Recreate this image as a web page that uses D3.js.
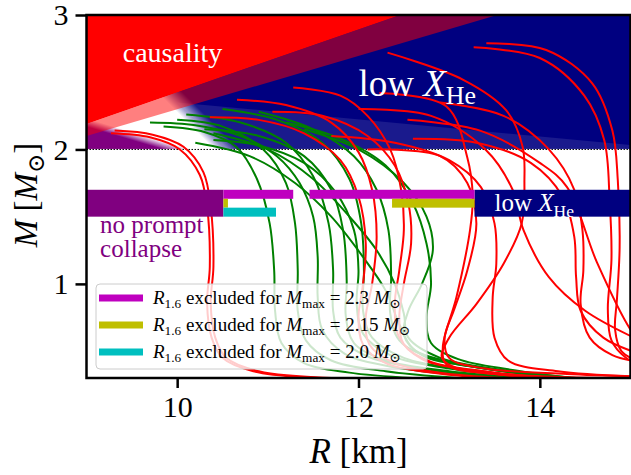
<!DOCTYPE html>
<html>
<head>
<meta charset="utf-8">
<script src="https://cdn.jsdelivr.net/npm/d3@7"></script>
<style>
  body { margin: 0; background: #fff; }
  text { font-family: 'Liberation Serif', 'DejaVu Serif', serif; white-space: pre; }
</style>
</head>
<body>
<div id="chart-area"></div>
<script>
// axis ticks
const xTicks = [10, 12, 14];
const yTicks = [1, 2, 3];

// shaded regions, in (R [km], M [Msun])
const causalityTop = [[9, 2.19], [12.46, 3]];
const causalityLow = [[9, 2.10], [13.53, 3]];
const xheEdge = [[10.55, 2.0], [9.07, 3.0]];
const xheLightEdge = [[10.0, 2.35], [15, 2.033]];
const promptEdge = [[9, 2.2], [10.0, 2.0]];

// bars at M = 1.5 .. 1.7
const barLevels = [1.5, 1.567, 1.633, 1.7];
const noPromptR = [9, 10.51];
const lowXheR = [13.28, 15];
const excl23 = [[10.51, 11.28], [11.46, 13.28]];
const excl215 = [[10.51, 10.56], [12.37, 13.28]];
const excl20 = [[10.51, 11.09]];
const legendMmax = ['2.3', '2.15', '2.0'];

// mass-radius curves
const greenCurves = [
  [[9.85,2.17],[10.3,2.13],[10.65,2.02],[10.88,1.78],[11.02,1.45],[11.07,1.1],[11.08,0.8],[11.15,0.56],[11.4,0.41],[11.9,0.34],[12.6,0.3]],
  [[10.0,2.22],[10.5,2.17],[10.95,2.0],[11.2,1.75],[11.3,1.45],[11.33,1.1],[11.33,0.8],[11.42,0.58],[11.7,0.43],[12.3,0.35],[13.1,0.3]],
  [[10.1,2.26],[10.7,2.2],[11.2,2.05],[11.5,1.8],[11.67,1.45],[11.72,1.1],[11.72,0.8],[11.8,0.6],[12.1,0.46],[12.7,0.37],[13.5,0.31],[14.0,0.29]],
  [[10.3,2.15],[10.9,2.1],[11.4,1.95],[11.7,1.7],[11.83,1.4],[11.87,1.02],[11.86,0.76],[11.95,0.56],[12.3,0.43],[13.0,0.35],[13.8,0.3]],
  [[10.5,2.3],[11.1,2.22],[11.6,2.05],[11.9,1.78],[12.03,1.45],[12.06,1.1],[12.05,0.8],[12.15,0.6],[12.5,0.45],[13.2,0.36],[14.1,0.3]],
  [[10.9,2.28],[11.5,2.15],[11.95,1.95],[12.2,1.7],[12.33,1.4],[12.36,1.05],[12.35,0.78],[12.45,0.58],[12.8,0.45],[13.5,0.36],[14.3,0.3]],
  [[11.2,2.2],[11.8,2.08],[12.3,1.88],[12.6,1.6],[12.75,1.3],[12.8,1.0],[12.75,0.75],[12.8,0.56],[13.1,0.44],[13.7,0.36],[14.35,0.3]],
  [[11.4,2.15],[12.0,2.0],[12.5,1.75],[12.75,1.5],[12.82,1.25],[12.7,1.0],[12.55,0.8],[12.5,0.62],[12.7,0.47],[13.3,0.38],[14.25,0.3]],
  [[10.2,2.05],[10.8,1.95],[11.3,1.75],[11.7,1.5],[12.05,1.2],[12.3,0.95],[12.45,0.7],[12.6,0.52],[13.0,0.42],[13.6,0.35],[14.3,0.3]],
  [[10.4,2.12],[11.0,2.0],[11.5,1.78],[11.9,1.5],[12.2,1.25],[12.4,1.0],[12.5,0.78],[12.55,0.6],[12.9,0.45],[13.6,0.36],[14.4,0.3]],
  [[9.7,2.2],[10.2,2.18],[10.7,2.1],[11.1,1.95],[11.35,1.75],[11.5,1.5],[11.55,1.2],[11.55,0.9],[11.6,0.66],[11.85,0.48],[12.4,0.38],[13.2,0.32],[13.9,0.3]],
  [[10.4,2.07],[10.9,2.03],[11.4,1.9],[11.75,1.68],[11.95,1.4],[12.0,1.1],[11.98,0.85],[12.05,0.63],[12.35,0.47],[13.0,0.37],[13.9,0.3]]
];

const redCurves = [
  [[9.27,2.12],[9.7,2.09],[10.03,2.0],[10.25,1.81],[10.33,1.57],[10.36,1.13],[10.33,0.86],[10.38,0.6],[10.5,0.45],[10.84,0.35],[11.6,0.3]],
  [[9.31,2.14],[9.73,2.11],[10.07,2.02],[10.29,1.83],[10.37,1.57],[10.4,1.13],[10.37,0.86],[10.42,0.6],[10.54,0.45],[10.9,0.35],[11.7,0.3]],
  [[10.36,2.24],[10.9,2.22],[11.4,2.12],[11.8,1.92],[12.0,1.65],[12.08,1.3],[12.05,1.0],[12.0,0.75],[12.05,0.55],[12.3,0.41],[12.8,0.34],[13.4,0.3]],
  [[10.66,2.37],[11.2,2.33],[11.7,2.2],[12.0,1.98],[12.15,1.7],[12.2,1.35],[12.15,1.0],[12.08,0.75],[12.12,0.55],[12.4,0.41],[12.9,0.34],[13.6,0.3]],
  [[11.28,2.46],[11.8,2.4],[12.1,2.25],[12.35,2.0],[12.47,1.7],[12.5,1.4],[12.45,1.1],[12.4,0.85],[12.45,0.6],[12.7,0.44],[13.2,0.36],[13.9,0.3]],
  [[11.05,2.28],[11.6,2.25],[12.1,2.1],[12.4,1.88],[12.55,1.6],[12.58,1.3],[12.5,1.0],[12.45,0.75],[12.5,0.55],[12.8,0.42],[13.4,0.35],[14.1,0.3]],
  [[12.32,2.72],[13.15,2.52],[13.63,2.29],[13.81,2.02],[13.83,1.77],[13.8,1.45],[13.6,1.15],[13.3,0.85],[13.0,0.6],[12.92,0.45],[13.1,0.37],[13.8,0.32],[14.7,0.3]],
  [[12.23,2.42],[12.97,2.32],[13.2,1.94],[13.26,1.65],[13.23,1.4],[13.08,0.9],[12.93,0.53],[12.97,0.4],[13.5,0.33],[14.4,0.3]],
  [[12.54,2.22],[13.34,2.14],[14.0,1.9],[14.3,1.72],[14.63,1.16],[15.0,0.66],[15.2,0.5]],
  [[13.41,2.79],[14.07,2.74],[14.58,2.49],[14.8,2.14],[14.86,1.77],[14.88,1.27],[14.85,0.88],[14.83,0.66],[14.9,0.5],[15.1,0.42]],
  [[13.27,2.76],[14.0,2.68],[14.49,2.4],[14.71,2.07],[14.77,1.62],[14.79,1.18],[14.75,0.81],[14.79,0.58],[14.95,0.45],[15.1,0.4]],
  [[12.6,2.08],[13.3,2.05],[13.9,1.9],[14.25,1.65],[14.38,1.35],[14.4,1.05],[14.45,0.8],[14.7,0.6],[15.1,0.48]],
  [[11.7,2.1],[12.4,2.05],[13.0,1.92],[13.35,1.72],[13.5,1.45],[13.52,1.15],[13.48,0.9],[13.5,0.6],[13.65,0.43],[14.2,0.35],[15.1,0.31]],
  [[12.9,2.35],[13.6,2.25],[14.1,2.0],[14.38,1.7],[14.47,1.4],[14.48,1.1],[14.45,0.85],[14.55,0.6],[14.8,0.47],[15.1,0.42]],
  [[12.0,2.3],[12.8,2.25],[13.4,2.0],[13.7,1.7],[13.82,1.4],[14.1,1.05],[14.5,0.8],[15.1,0.58]],
  [[12.1,2.0],[12.9,1.95],[13.2,1.75],[13.3,1.45],[13.2,1.1],[13.05,0.8],[12.95,0.6],[13.0,0.45],[13.4,0.37],[14.3,0.33],[15.1,0.31]]
];

// chart size
const margin = {left: 86.5, right: 0.5, top: 15, bottom: 97};
const width = 631 - margin.left - margin.right;
const height = 475 - margin.top - margin.bottom;

const svg = d3.select('#chart-area')
  .append('svg')
  .attr('width', 631)
  .attr('height', 475);

const g = svg.append('g')
  .attr('transform', `translate(${margin.left}, ${margin.top})`);

const x = d3.scaleLinear().domain([9, 15]).range([0, width]);
const y = d3.scaleLinear().domain([0.3, 3]).range([height, 0]);

const defs = svg.append('defs');
defs.append('clipPath').attr('id', 'plot-clip')
  .append('rect').attr('width', width).attr('height', height);

// gradient that fades across a straight edge (transparent on one side, solid on the other)
function edgeFade(id, edge, color, w) {
  const p0 = [x(edge[0][0]), y(edge[0][1])];
  const p1 = [x(edge[1][0]), y(edge[1][1])];
  const len = Math.hypot(p1[0] - p0[0], p1[1] - p0[1]);
  const n = [-(p1[1] - p0[1]) / len, (p1[0] - p0[0]) / len];
  const m = [(p0[0] + p1[0]) / 2, (p0[1] + p1[1]) / 2];
  const grad = defs.append('linearGradient').attr('id', id)
    .attr('gradientUnits', 'userSpaceOnUse')
    .attr('x1', m[0] - n[0] * w).attr('y1', m[1] - n[1] * w)
    .attr('x2', m[0] + n[0] * w).attr('y2', m[1] + n[1] * w);
  grad.append('stop').attr('offset', 0).attr('stop-color', color).attr('stop-opacity', 0);
  grad.append('stop').attr('offset', 1).attr('stop-color', color).attr('stop-opacity', 1);
}
edgeFade('xhe-fade', xheEdge, '#000080', 9);
edgeFade('prompt-fade', promptEdge, '#800080', 4);

const plot = g.append('g').attr('clip-path', 'url(#plot-clip)');
const area = d3.line().x(d => x(d[0])).y(d => y(d[1]));

// low X_He region
plot.append('path')
  .attr('d', area([[9, 3], [15, 3], [15, 2], [9, 2]]) + 'Z')
  .attr('fill', 'url(#xhe-fade)');
plot.append('path')
  .attr('d', area([xheLightEdge[0], xheLightEdge[1], [15, 2], [10.55, 2]]) + 'Z')
  .attr('fill', '#fff').attr('fill-opacity', 0.1);

// no prompt collapse wedge above M = 2
plot.append('path')
  .attr('d', area([[9, 2.3], [10.4, 2.0], [9, 2.0]]) + 'Z')
  .attr('fill', 'url(#prompt-fade)');

// causality
plot.append('path')
  .attr('d', area([causalityTop[0], causalityTop[1], causalityLow[1], causalityLow[0]]) + 'Z')
  .attr('fill', 'red').attr('fill-opacity', 0.5);
plot.append('path')
  .attr('d', area([[9, 3], causalityTop[1], causalityTop[0]]) + 'Z')
  .attr('fill', 'red');

// M = 2 dotted line
plot.append('line')
  .attr('x1', 0).attr('x2', width).attr('y1', y(2)).attr('y2', y(2))
  .attr('stroke', '#fff').attr('stroke-width', 1);
plot.append('line')
  .attr('x1', 0).attr('x2', width).attr('y1', y(2)).attr('y2', y(2))
  .attr('stroke', '#000').attr('stroke-width', 1).attr('stroke-dasharray', '1.5,1.5');

// M-R curves
const curve = d3.line()
  .x(d => x(d[0])).y(d => y(d[1]))
  .curve(d3.curveCatmullRom.alpha(0.5));

plot.selectAll('.green').data(greenCurves).enter()
  .append('path').attr('class', 'green')
  .attr('d', curve)
  .attr('fill', 'none').attr('stroke', 'green').attr('stroke-width', 2);

plot.selectAll('.red').data(redCurves).enter()
  .append('path').attr('class', 'red')
  .attr('d', curve)
  .attr('fill', 'none').attr('stroke', 'red').attr('stroke-width', 2);

// bars
function bar(r, m0, m1, color) {
  plot.append('rect')
    .attr('x', x(r[0])).attr('width', x(r[1]) - x(r[0]))
    .attr('y', y(m1)).attr('height', y(m0) - y(m1))
    .attr('fill', color);
}
bar(noPromptR, barLevels[0], barLevels[3], '#800080');
bar(lowXheR, barLevels[0], barLevels[3], '#000080');
excl23.forEach(r => bar(r, barLevels[2], barLevels[3], '#bf00bf'));
excl215.forEach(r => bar(r, barLevels[1], barLevels[2], '#bfbf00'));
excl20.forEach(r => bar(r, barLevels[0], barLevels[1], '#00bfbf'));

// text with italic parts and subscripts
function rich(sel, parts, size) {
  let shift = 0;
  parts.forEach(p => {
    const target = p.sub ? size * 0.22 : 0;
    sel.append('tspan')
      .attr('dy', target - shift)
      .attr('font-size', p.sub ? size * 0.7 : size)
      .attr('font-style', p.it ? 'italic' : 'normal')
      .text(p.t);
    shift = target;
  });
}

// region labels
g.append('text').attr('x', x(9.4)).attr('y', y(2.65))
  .attr('fill', '#fff').attr('font-size', 28).text('causality');

rich(g.append('text').attr('x', x(12.0)).attr('y', y(2.4)).attr('fill', '#fff'),
  [{t: 'low '}, {t: 'X', it: true}, {t: 'He', sub: true}], 37);

rich(g.append('text').attr('x', x(13.5)).attr('y', y(1.54)).attr('fill', '#fff'),
  [{t: 'low '}, {t: 'X', it: true}, {t: 'He', sub: true}], 25);

const npc = g.append('text').attr('y', y(1.375))
  .attr('fill', '#800080').attr('font-size', 25);
npc.append('tspan').attr('x', x(9.15)).text('no prompt');
npc.append('tspan').attr('x', x(9.15)).attr('dy', 23.5).text('collapse');

// legend
const legend = g.append('g').attr('transform', `translate(${96 - margin.left}, ${284 - margin.top})`);
legend.append('rect')
  .attr('width', 331).attr('height', 85).attr('rx', 4)
  .attr('fill', '#fff').attr('fill-opacity', 0.8)
  .attr('stroke', '#cccccc').attr('stroke-width', 1);
const legendColors = ['#bf00bf', '#bfbf00', '#00bfbf'];
legendMmax.forEach((mm, i) => {
  const cy = 14 + i * 27;
  legend.append('line')
    .attr('x1', 3).attr('x2', 47).attr('y1', cy).attr('y2', cy)
    .attr('stroke', legendColors[i]).attr('stroke-width', 7);
  rich(legend.append('text').attr('x', 57).attr('y', cy + 6).attr('fill', '#000'),
    [{t: 'R', it: true}, {t: '1.6', sub: true}, {t: ' excluded for '},
     {t: 'M', it: true}, {t: 'max', sub: true}, {t: ' = ' + mm + ' '},
     {t: 'M', it: true}, {t: '⊙', sub: true}], 19);
});

// axes
const xAxisCall = d3.axisBottom(x).tickValues(xTicks).tickSize(10).tickPadding(8)
  .tickFormat(d3.format('d'));
const yAxisCall = d3.axisLeft(y).tickValues(yTicks).tickSize(11).tickPadding(7)
  .tickFormat(d3.format('d'));

const xAxis = g.append('g').attr('transform', `translate(0, ${height})`).call(xAxisCall);
const yAxis = g.append('g').call(yAxisCall);
[xAxis, yAxis].forEach(a => {
  a.select('.domain').remove();
  a.selectAll('line').attr('stroke', '#000').attr('stroke-width', 2.5);
  a.selectAll('text').attr('font-size', 30).attr('fill', '#000')
    .attr('font-family', "'Liberation Serif', serif");
});

// frame
g.append('rect')
  .attr('width', width).attr('height', height)
  .attr('fill', 'none').attr('stroke', '#000').attr('stroke-width', 2.5);

// axis labels
rich(g.append('text').attr('x', width / 2).attr('y', height + 85)
  .attr('text-anchor', 'middle').attr('fill', '#000'),
  [{t: 'R', it: true}, {t: ' [km]'}], 35);

rich(g.append('text')
  .attr('transform', `translate(${37 - margin.left}, ${195 - margin.top}) rotate(-90)`)
  .attr('text-anchor', 'middle').attr('fill', '#000'),
  [{t: 'M', it: true}, {t: ' ['}, {t: 'M', it: true}, {t: '⊙', sub: true}, {t: ']'}], 33);
</script>
</body>
</html>
